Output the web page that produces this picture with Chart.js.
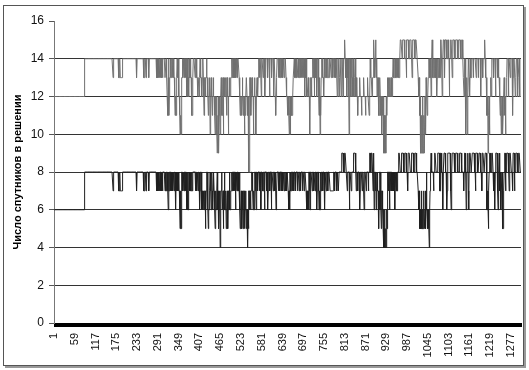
<!DOCTYPE html>
<html><head><meta charset="utf-8">
<script src="https://cdn.jsdelivr.net/npm/chart.js@4.4.1/dist/chart.umd.min.js"></script>
<style>
html,body{margin:0;padding:0;background:#fff;width:529px;height:370px;overflow:hidden;}
#frame{position:absolute;left:3px;top:5px;width:519px;height:359px;border:1px solid #555;box-shadow:2px 2px 0 #999;}
#wrap{position:absolute;left:0;top:0;width:529px;height:370px;}
</style></head><body>
<div id="frame"></div>
<div id="wrap"><canvas id="c" width="529" height="370"></canvas></div>
<script>
// number of samples on the category axis
const sampleCount = 1305;
// tick labels shown along the x axis
const tickLabels = ['1','59','117','175','233','291','349','407','465','523','581','639','697','755','813','871','929','987','1045','1103','1161','1219','1277'];
// y axis ticks
const yTicks = [0,2,4,6,8,10,12,14,16];
const yTitle = 'Число спутников в решении';

// Upper series: pairs (sample where the value starts, value)
const upperSteps = [1,12, 86,14, 166,13, 167,14, 181,13, 185,14, 186,13, 192,14, 232,13, 233,14, 252,13, 255,14, 258,13, 259,14, 266,13, 267,14,
288,13, 289,14, 290,13, 292,14, 293,13, 294,14, 295,13, 297,14, 298,13, 299,14, 301,13, 303,14, 304,13, 305,14,
311,13, 314,14, 315,13, 317,12, 318,11, 320,13, 321,14, 322,11, 323,12, 324,13, 326,14, 328,13, 329,14, 332,13, 333,14,
336,13, 338,12, 339,11, 341,12, 342,11, 343,13, 345,14, 346,13, 348,14,
350,12, 352,11, 353,10, 355,11, 356,10, 357,12, 358,13, 360,14, 361,13, 362,14, 364,13, 365,14,
368,13, 369,14, 371,12, 372,14, 374,12, 375,13, 377,12, 378,14, 380,13, 381,14,
383,13, 385,12, 386,11, 388,12, 389,13, 390,14,
395,13, 396,14, 400,13, 402,12, 403,13, 406,12, 407,13, 409,14, 411,13,
414,12, 415,13, 417,14, 418,13, 419,12, 420,11, 421,13,
424,12, 425,13, 427,14, 428,13, 430,12, 432,11, 433,12, 435,13, 437,10, 438,12, 440,13,
442,12, 443,11, 444,12, 446,13, 447,12, 449,11, 451,10, 452,12, 453,11, 455,12, 456,10, 457,9, 459,11, 460,12, 461,9, 462,11, 464,12, 465,10, 466,12, 468,13, 469,12, 470,11, 472,12, 473,13, 474,10, 475,12, 477,13, 478,12, 480,13, 482,12, 483,11, 484,13, 486,12, 488,10, 489,12, 491,13, 492,12, 494,13,
497,14, 499,13, 500,14, 503,13, 504,14, 506,13, 507,14, 509,13, 510,14, 512,13, 514,14,
518,13, 520,12, 521,11, 522,12, 524,11, 525,12, 527,13, 528,12, 529,11, 531,12, 533,10, 534,12, 535,11, 537,12, 538,13, 540,12, 541,11, 543,12, 545,8, 547,12, 548,13, 550,12, 551,11, 552,12, 554,13,
556,12, 558,10, 559,12, 561,13, 562,12, 564,11, 565,10, 566,12, 568,13, 570,12, 571,13,
573,14, 575,13, 576,14, 580,12, 581,14, 585,13, 587,14, 590,12, 591,13, 592,14, 597,13, 599,14, 603,12, 604,14, 608,13, 610,14, 614,12, 615,14, 619,12, 620,11, 621,12, 622,13, 624,14, 628,13, 629,14,
632,13, 634,14, 636,13, 637,14, 639,13, 641,14, 644,13, 646,14, 649,13, 651,12, 653,11, 654,12, 656,11, 658,10, 659,11, 660,12, 661,10, 662,11, 664,12, 665,11, 667,12, 669,13,
672,14, 673,13, 676,14, 677,13, 679,14, 680,13, 683,14, 684,13, 687,14, 689,13, 690,14, 692,13, 693,14, 695,13, 696,14, 698,13, 699,14, 701,12, 702,14, 704,13, 705,14,
707,12, 711,13, 713,12, 715,10, 716,12, 717,13, 720,12, 721,13,
723,14, 725,13, 726,14, 728,12, 729,14, 731,13, 733,14, 735,12, 736,13, 738,14, 740,12, 741,11, 742,12, 743,13, 744,10, 745,12, 746,11, 747,13, 749,14,
752,13, 754,12, 755,13, 757,14, 758,13, 760,14, 762,13, 765,14, 767,13,
770,14, 775,13, 776,14, 780,13, 781,14, 784,13, 785,14, 788,13, 789,14,
792,12, 794,14, 797,12, 799,13, 800,14, 803,12, 805,14, 808,12, 810,14,
813,15, 814,14, 816,13, 817,14, 818,13, 819,12, 820,14, 821,13, 822,14, 823,12, 824,13, 825,10, 826,12, 827,14, 829,13, 830,12, 832,14, 833,13, 835,12, 836,14, 838,12, 840,13, 842,14, 843,12, 845,13,
846,12, 849,11, 850,12, 854,13, 856,12, 860,11, 861,12, 865,13, 867,12, 871,11, 872,12, 876,13, 878,12, 881,11, 882,12, 884,14, 886,13, 889,12, 890,13,
893,14, 894,15, 895,14, 896,13, 898,14, 899,15, 900,14, 901,13, 902,14, 903,12, 904,13,
907,12, 908,11, 910,12, 911,13, 912,12, 914,11, 915,12, 916,10, 917,12, 918,11, 919,12, 921,10, 922,9, 923,11, 924,10, 925,9, 926,10, 927,11, 928,9, 929,12, 930,11, 931,12, 932,13,
934,12, 935,13, 937,12, 938,13, 940,12, 942,13, 944,12, 946,13, 948,14, 950,13, 952,14,
955,13, 957,14, 960,13, 961,14, 964,13, 966,14,
968,15, 973,14, 975,15, 980,14, 985,13, 986,15, 991,14, 995,15, 1001,13, 1002,15, 1008,14, 1010,15, 1015,14,
1018,13, 1019,12, 1021,13, 1022,11, 1023,12, 1024,10, 1025,9, 1027,10, 1028,11, 1029,9, 1030,12, 1031,10, 1032,9, 1034,11, 1035,9, 1037,12, 1038,10, 1040,13, 1041,12, 1043,11, 1044,12, 1046,13,
1048,14, 1050,13, 1052,14, 1054,12, 1055,14, 1057,15, 1058,14, 1059,13,
1061,14, 1063,13, 1064,14, 1066,13, 1068,14, 1070,12, 1071,13, 1072,14, 1074,13, 1075,14, 1078,13,
1080,15, 1085,12, 1086,14, 1088,15, 1092,13, 1093,15, 1098,14, 1100,15,
1103,14, 1105,12, 1106,14, 1108,15, 1113,13, 1114,15, 1119,14, 1122,15, 1128,14, 1131,15, 1137,14, 1139,15, 1142,14,
1144,13, 1146,12, 1147,13, 1148,14, 1150,12, 1151,10, 1152,12, 1153,13, 1155,10, 1156,12, 1158,14, 1160,13, 1161,12, 1163,14,
1165,13, 1167,14, 1172,13, 1173,14, 1180,13, 1181,14, 1186,13, 1187,14, 1193,12, 1194,14, 1198,13, 1199,14, 1203,15, 1205,14, 1207,13,
1209,12, 1210,11, 1212,12, 1213,9, 1214,11, 1216,12, 1217,10, 1218,12, 1220,13, 1222,12,
1224,14, 1228,13, 1230,14, 1234,12, 1235,14, 1239,13, 1240,14, 1243,13, 1245,12,
1247,11, 1248,12, 1250,10, 1251,11, 1252,12, 1253,10, 1255,11, 1256,12, 1258,13, 1259,11, 1260,12, 1262,10, 1263,12, 1265,13,
1266,14, 1270,12, 1271,14, 1275,13, 1277,14, 1281,12, 1282,11, 1283,13, 1285,14, 1289,12, 1290,13, 1292,14, 1296,12, 1297,13, 1300,14, 1302,12];

// Lower series: pairs (sample where the value starts, value)
const lowerSteps = [1,6, 86,8, 166,7, 167,8, 181,7, 185,8, 186,7, 192,8, 232,7, 233,8, 252,7, 255,8, 258,7, 259,8, 266,7, 267,8,
288,7, 289,8, 290,7, 292,8, 293,7, 294,8, 295,7, 297,8, 298,7, 299,8, 301,7, 303,8, 304,7, 305,8,
311,7, 313,8, 314,7, 316,8, 318,7, 320,6, 321,8, 322,7, 324,8, 326,7, 327,8, 330,7, 331,8, 333,7, 334,8,
337,7, 338,8, 340,6, 342,8, 343,7, 345,8, 347,7, 348,8,
350,7, 352,6, 353,5, 355,7, 356,5, 357,6, 358,8, 360,7, 362,8, 364,7, 365,8,
368,7, 369,8, 371,6, 372,7, 374,8, 375,6, 377,7, 378,8, 380,7, 381,8,
383,7, 385,8, 387,7, 389,8,
396,7, 397,8, 400,7, 401,8, 404,7, 405,8, 408,6, 409,7, 411,8,
413,7, 414,6, 415,7, 417,6, 418,7, 420,6, 422,7, 424,5, 425,6, 426,7, 428,8, 430,7, 431,6, 432,5, 433,6, 435,7,
437,8, 439,7, 440,6, 441,8, 443,7, 444,6, 445,7, 447,8, 448,7, 450,6, 451,5, 452,7, 454,6, 455,7, 457,8, 458,6, 459,7, 461,5, 462,6, 463,7, 465,4, 466,6, 467,7, 469,8, 470,7, 471,6, 473,7, 474,5, 475,7, 477,8, 478,6, 480,7, 482,5, 483,6, 485,7, 486,5, 487,6, 489,7, 491,8, 492,6, 494,7,
497,8, 499,7, 500,8, 502,7, 503,8, 505,7, 506,8, 508,6, 509,7, 510,8, 512,7, 514,8, 516,7,
519,8, 520,6, 521,5, 523,6, 524,7, 525,5, 526,6, 528,7, 529,5, 530,6, 531,7, 533,5, 534,6, 536,7, 537,6, 538,5, 539,6, 541,4, 543,6, 544,5, 545,7, 547,6, 548,7, 550,6, 551,7, 553,8,
555,7, 557,6, 558,7, 560,6, 561,7, 562,8, 564,7, 566,6, 567,8,
569,7, 571,8, 575,7, 576,8, 579,6, 580,8, 584,7, 586,8, 589,6, 590,8, 594,7, 595,8, 598,6, 599,7, 600,8, 604,7, 605,8, 608,6, 609,8, 613,7, 614,8, 618,7, 619,8, 621,6, 622,7, 624,8, 628,7, 629,8,
632,7, 633,8, 636,7, 637,8, 639,7, 641,8, 644,7, 645,8, 647,7, 649,8, 650,7, 652,8,
655,7, 656,6, 658,7, 659,6, 660,8, 662,7, 664,8,
667,7, 668,8, 671,7, 672,8, 676,7, 677,8, 681,7, 682,8, 686,7, 687,8, 690,7, 691,8, 695,7, 696,8, 700,7, 701,8,
705,7, 707,6, 708,7, 710,6, 711,7, 712,6, 713,8, 715,7, 716,6, 717,8,
722,7, 723,8, 726,7, 727,8, 730,7, 731,8, 734,7, 735,6, 736,7, 738,8, 740,7, 741,6, 742,7, 744,6, 745,8, 747,7, 748,8,
752,7, 753,8, 756,7, 757,6, 758,8, 761,7, 763,8, 766,7, 767,8,
772,7, 782,8, 784,7, 786,8, 790,7, 792,8, 795,7, 797,8,
804,9, 810,8, 812,9, 817,8,
820,7, 821,8, 826,6, 827,8, 831,7, 832,8, 838,9, 843,8, 845,7,
846,8, 849,7, 850,8, 855,6, 856,7, 857,8, 862,7, 863,8, 867,6, 868,8, 873,7, 874,8, 879,7, 880,8,
883,9, 886,8, 887,9, 892,7, 893,9, 895,6, 896,8, 899,7, 900,8, 901,6, 902,7, 903,8, 905,7,
907,6, 908,5, 909,7, 910,6, 911,8, 913,7, 914,6, 915,5, 916,7, 918,6, 920,5, 921,6, 922,4, 923,5, 924,6, 925,4, 927,5, 928,4, 930,6, 931,5, 932,7, 933,8,
935,7, 936,8, 938,6, 939,8, 941,7, 942,8, 944,7, 945,8, 947,7, 948,8, 950,7, 951,8, 953,6, 954,8, 956,7, 957,8, 959,7, 960,8,
963,9, 968,8, 971,9, 977,8, 981,9, 986,8, 989,7, 990,9, 996,8, 1000,9, 1005,8, 1008,9, 1014,8,
1018,7, 1019,6, 1021,7, 1022,5, 1023,6, 1024,5, 1026,6, 1027,7, 1028,5, 1030,6, 1031,5, 1033,7, 1034,6, 1035,5, 1037,6, 1038,7, 1039,5, 1040,6, 1041,8, 1042,6, 1044,5, 1046,6, 1048,5, 1049,4, 1050,6, 1051,7, 1052,8,
1054,9, 1056,8, 1061,7, 1062,8, 1064,9, 1068,8,
1073,9, 1078,7, 1080,9, 1084,8, 1087,6, 1088,8, 1090,9, 1095,8, 1098,6, 1099,7, 1100,9,
1104,9, 1109,7, 1110,6, 1111,8, 1113,9, 1119,8, 1123,9, 1129,8, 1133,9, 1139,8,
1145,7, 1146,8, 1148,9, 1151,8, 1152,6, 1153,8, 1156,9, 1158,7, 1159,6, 1160,8, 1161,9,
1166,8, 1169,9, 1175,8, 1178,7, 1179,9, 1184,8, 1188,9, 1193,8, 1196,7, 1197,9, 1202,8, 1205,9,
1209,7, 1210,6, 1212,7, 1213,6, 1214,5, 1215,7, 1216,8, 1218,9, 1220,8,
1223,9, 1227,8, 1229,7, 1230,8, 1232,6, 1233,8, 1235,9, 1239,7, 1241,6, 1242,8, 1244,9,
1246,7, 1247,8, 1249,6, 1250,7, 1252,8, 1253,6, 1254,5, 1256,6, 1257,7, 1258,8, 1260,9, 1262,7, 1263,8,
1265,9, 1270,8, 1272,7, 1273,9, 1278,8, 1281,7, 1283,9, 1287,7, 1288,8, 1291,9, 1296,8, 1299,9, 1303,8];

function expandSteps(steps, n) {
  const out = new Array(n);
  let k = 0;
  for (let c = 1; c <= n; c++) {
    while (k + 2 < steps.length && steps[k + 2] <= c) k += 2;
    out[c - 1] = steps[k + 1];
  }
  return out;
}

const categories = [];
for (let i = 1; i <= sampleCount; i++) categories.push(String(i));
const upperValues = expandSteps(upperSteps, sampleCount);
const lowerValues = expandSteps(lowerSteps, sampleCount);

const FONT = "'Liberation Sans', Arial, sans-serif";

new Chart(document.getElementById('c'), {
  type: 'line',
  data: {
    labels: categories,
    datasets: [
      { data: upperValues, borderColor: '#707070', borderWidth: 1, pointRadius: 0, tension: 0, fill: false },
      { data: lowerValues, borderColor: '#202020', borderWidth: 1, pointRadius: 0, tension: 0, fill: false }
    ]
  },
  options: {
    responsive: false,
    animation: false,
    devicePixelRatio: 1,
    layout: { padding: { left: 0, right: 8, top: 21, bottom: 0 } },
    plugins: { legend: { display: false }, tooltip: { enabled: false } },
    scales: {
      x: {
        type: 'category',
        offset: false,
        border: { display: true, color: '#000', width: 1 },
        grid: { drawOnChartArea: false, drawTicks: true, tickLength: 4, tickColor: '#000', lineWidth: 1 },
        ticks: {
          autoSkip: false, maxRotation: 90, minRotation: 90, padding: 6,
          color: '#111', font: { family: FONT, size: 11 },
          callback: function (val, i) {
            const l = this.getLabelForValue(val);
            return tickLabels.includes(l) ? l : '';
          }
        },
        afterFit: s => { s.height = 47; s.paddingLeft = 0; s.paddingRight = 0; }
      },
      y: {
        min: 0, max: 16,
        afterBuildTicks: s => { s.ticks = yTicks.map(v => ({ value: v })); },
        border: { display: true, color: '#777', width: 1 },
        grid: {
          color: ctx => (ctx.tick && (ctx.tick.value === 16 || ctx.tick.value === 0)) ? 'rgba(0,0,0,0)' : '#333',
          tickColor: '#555', tickLength: 5, lineWidth: 1
        },
        ticks: { padding: 5, color: '#111', font: { family: FONT, size: 12 } },
        title: { display: true, text: yTitle, color: '#000', font: { family: FONT, size: 11, weight: 'bold' }, padding: { top: 11, bottom: 0 } },
        afterFit: s => { s.width = 54; }
      }
    }
  }
});
</script>
</body></html>
